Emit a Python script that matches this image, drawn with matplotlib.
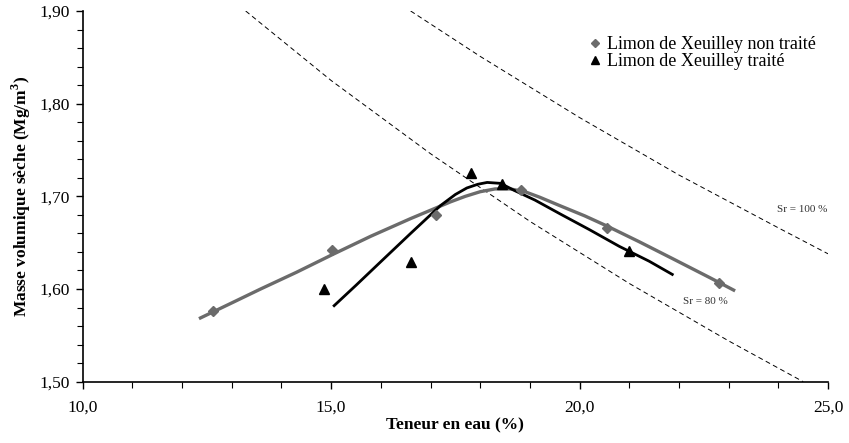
import matplotlib
matplotlib.use("Agg")
import matplotlib.pyplot as plt
from matplotlib.ticker import MultipleLocator, FuncFormatter

plt.rcParams['font.family'] = ['Liberation Serif', 'DejaVu Serif']
plt.rcParams['mathtext.fontset'] = 'custom'
plt.rcParams['mathtext.rm'] = 'Liberation Serif'
plt.rcParams['mathtext.bf'] = 'Liberation Serif:bold'

# points mesures
w_non_traite = [12.63, 15.02, 17.12, 18.82, 20.55, 22.81]
rho_non_traite = [1.576, 1.642, 1.680, 1.707, 1.666, 1.607]
w_traite = [14.85, 16.60, 17.82, 18.44, 21.00]
rho_traite = [1.600, 1.629, 1.725, 1.713, 1.641]

# courbes de tendance
w_courbe_nt = [12.34, 13.0, 13.58, 14.3, 15.02, 15.8, 16.6, 17.0, 17.4, 17.7, 18.0, 18.3, 18.6, 18.9,
               19.2, 19.6, 20.1, 20.55, 21.2, 21.9, 22.63, 23.13]
rho_courbe_nt = [1.568, 1.585, 1.600, 1.618, 1.637, 1.657, 1.676, 1.685, 1.694, 1.700, 1.705, 1.708, 1.708,
                 1.705, 1.699, 1.690, 1.679, 1.668, 1.651, 1.632, 1.612, 1.598]
w_courbe_t = [15.04, 15.5, 15.99, 16.6, 17.2, 17.5, 17.73, 17.95, 18.14, 18.41, 18.7, 19.1, 19.61, 20.2,
              20.8, 21.4, 21.89]
rho_courbe_t = [1.581, 1.604, 1.629, 1.660, 1.690, 1.702, 1.709, 1.713, 1.715, 1.714, 1.706, 1.696, 1.681,
                1.664, 1.646, 1.630, 1.615]

# courbes de saturation Sr = 80 % et Sr = 100 %
w_sr80 = [13.28, 15.0, 17.0, 19.0, 21.0, 23.0, 24.5]
rho_sr80 = [1.900, 1.825, 1.746, 1.673, 1.606, 1.544, 1.500]
w_sr100 = [16.6, 18.0, 20.0, 22.0, 24.0, 25.0]
rho_sr100 = [1.900, 1.851, 1.785, 1.723, 1.666, 1.638]

gris = '#6b6b6b'

fig, ax = plt.subplots(figsize=(8.49, 4.43), dpi=100)
fig.subplots_adjust(left=0.0974, right=0.9753, bottom=0.1384, top=0.9752)

ax.plot(w_sr80, rho_sr80, color='black', lw=0.7, ls=(0, (5, 3.5)))
ax.plot(w_sr100, rho_sr100, color='black', lw=0.7, ls=(0, (5, 3.5)))

ax.plot(w_courbe_nt, rho_courbe_nt, color=gris, lw=2.4, solid_capstyle='butt', solid_joinstyle='round')
ax.plot(w_courbe_t, rho_courbe_t, color='black', lw=2.0, solid_capstyle='butt', solid_joinstyle='round')

h1, = ax.plot(w_non_traite, rho_non_traite, 'D', color=gris, ms=5, ls='none',
              label='Limon de Xeuilley non traité')
h2, = ax.plot(w_traite, rho_traite, '^', color='black', ms=7, ls='none',
              label='Limon de Xeuilley traité')

ax.text(23.98, 1.686, 'Sr = 100 %', fontsize=8, va='center', ha='left', color='#333333')
ax.text(22.08, 1.586, 'Sr = 80 %', fontsize=8, va='center', ha='left', color='#333333')

leg = ax.legend(handles=[h1, h2], loc='upper left', bbox_to_anchor=(0.683, 0.938),
                bbox_transform=fig.transFigure, frameon=False,
                prop={'family': 'Liberation Serif', 'size': 13},
                handlelength=0.7, handletextpad=0.3, labelspacing=0.0, borderpad=0)
leg.legend_handles[0].set_markersize(4.5)
leg.legend_handles[1].set_markersize(6)

ax.set_xlim(10, 25)
ax.set_ylim(1.50, 1.90)
ax.xaxis.set_major_locator(MultipleLocator(5))
ax.xaxis.set_minor_locator(MultipleLocator(1))
ax.yaxis.set_major_locator(MultipleLocator(0.1))
ax.yaxis.set_minor_locator(MultipleLocator(0.02))
ax.xaxis.set_major_formatter(FuncFormatter(lambda v, p: f'{v:.1f}'.replace('.', ',')))
ax.yaxis.set_major_formatter(FuncFormatter(lambda v, p: f'{v:.2f}'.replace('.', ',')))
ax.tick_params(which='major', direction='out', length=5, width=1, labelsize=12.5)
ax.tick_params(which='minor', direction='out', length=4, width=0.8)
ax.tick_params(axis='x', pad=8)
ax.tick_params(axis='y', pad=4)

for s in ['top', 'right']:
    ax.spines[s].set_visible(False)
for s in ['left', 'bottom']:
    ax.spines[s].set_linewidth(1.2)

ax.set_xlabel('Teneur en eau (%)', fontsize=12.5, fontweight='bold', labelpad=1)
ax.set_ylabel('Masse volumique sèche (Mg/m$^\\mathbf{3}$)', fontsize=12.5, fontweight='bold', labelpad=5)

fig.savefig('out.png', dpi=100)
